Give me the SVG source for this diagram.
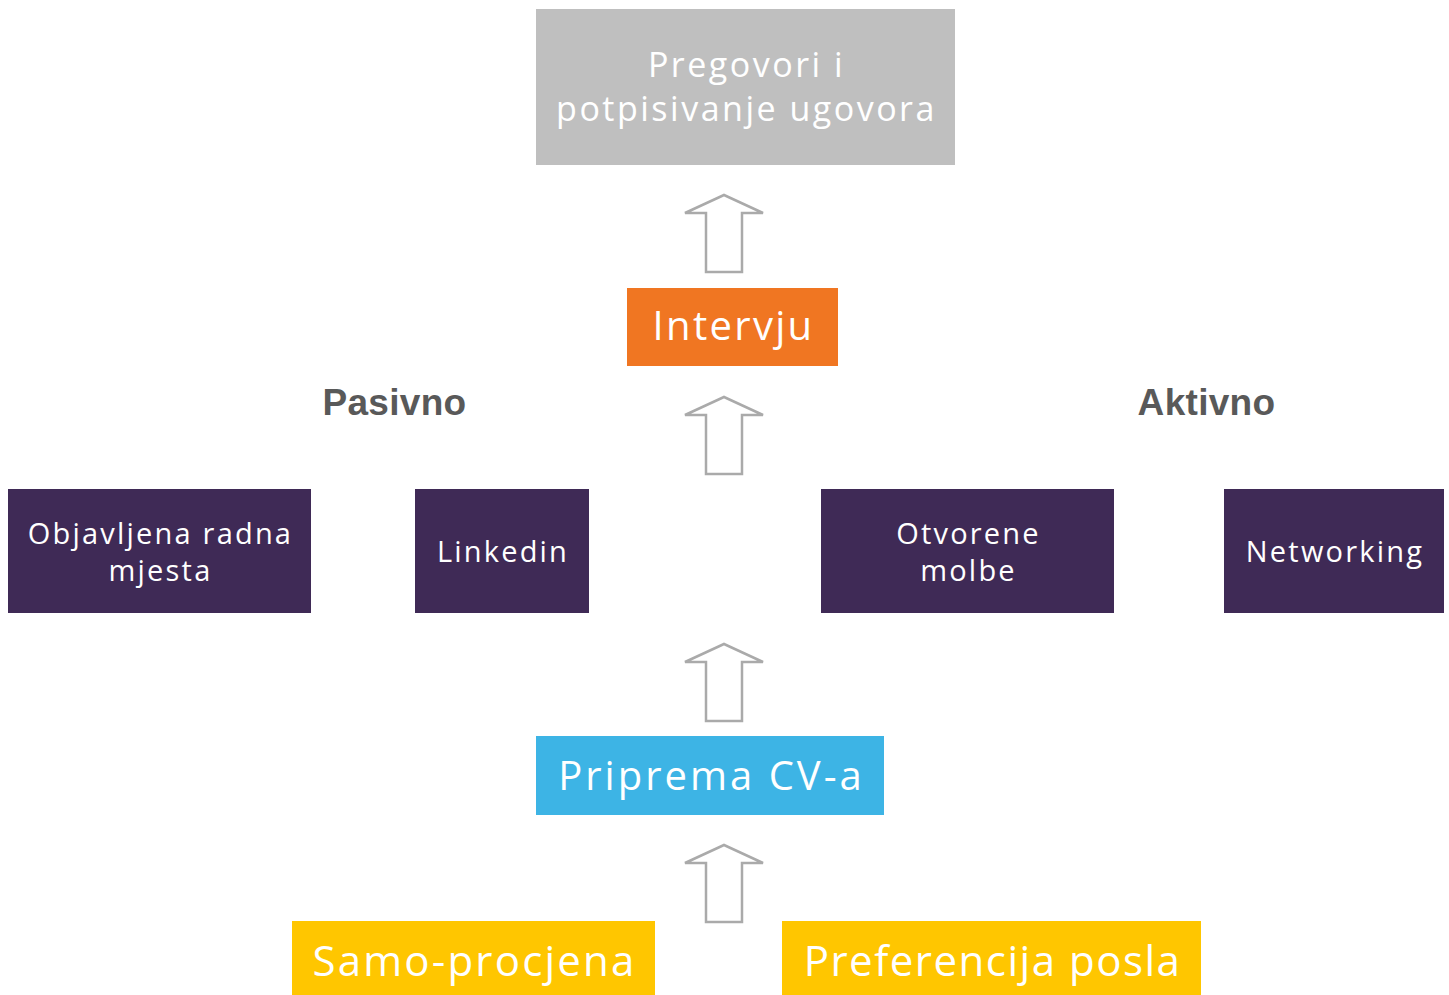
<svg xmlns="http://www.w3.org/2000/svg" width="1449" height="995" viewBox="0 0 1449 995">
<style>
.t{font-family:"Open Sans","Liberation Sans",sans-serif;fill:#fff;text-anchor:middle}
.p{fill:#3f2a56}
.h{font-family:"Liberation Sans",Arial,sans-serif;font-weight:bold;font-size:37px;fill:#595959;text-anchor:middle;letter-spacing:0.3px}
.a{fill:#fff;stroke:#aaaaaa;stroke-width:2.5}
</style>
<defs>
<path id="arr" class="a" d="M0,0 L39,18 L18,18 L18,77 L-18,77 L-18,18 L-39,18 Z"/>
</defs>
<rect width="1449" height="995" fill="#fff"/>
<g id="n-pregovori"><rect x="536" y="9" width="419" height="156" fill="#bfbfbf"/>
<text class="t" x="746.5" y="77" font-size="34" letter-spacing="2.5">Pregovori i</text>
<text class="t" x="746.5" y="121" font-size="34" letter-spacing="2.5">potpisivanje ugovora</text></g>
<g id="n-intervju"><rect x="627" y="288" width="211" height="78" fill="#f07622"/>
<text class="t" x="733.5" y="340" font-size="40" letter-spacing="2.3">Intervju</text></g>
<g id="n-pasivno"><text class="h" x="394.5" y="415">Pasivno</text></g>
<g id="n-aktivno"><text class="h" x="1206.5" y="415">Aktivno</text></g>
<g id="n-objavljena"><rect class="p" x="8" y="489" width="303" height="124"/>
<text class="t" x="160.5" y="544" font-size="29" letter-spacing="2.2">Objavljena radna</text>
<text class="t" x="160.5" y="581" font-size="29" letter-spacing="2.2">mjesta</text></g>
<g id="n-linkedin"><rect class="p" x="415" y="489" width="174" height="124"/>
<text class="t" x="503" y="562" font-size="29" letter-spacing="2.2">Linkedin</text></g>
<g id="n-otvorene"><rect class="p" x="821" y="489" width="293" height="124"/>
<text class="t" x="968.5" y="544" font-size="29" letter-spacing="2.2">Otvorene</text>
<text class="t" x="968.5" y="581" font-size="29" letter-spacing="2.2">molbe</text></g>
<g id="n-networking"><rect class="p" x="1224" y="489" width="220" height="124"/>
<text class="t" x="1335" y="562" font-size="29" letter-spacing="2.2">Networking</text></g>
<g id="n-priprema"><rect x="536" y="736" width="348" height="79" fill="#3db4e5"/>
<text class="t" x="711.5" y="790" font-size="40" letter-spacing="3">Priprema CV-a</text></g>
<g id="n-samo"><rect x="292" y="921" width="363" height="74" fill="#ffc600"/>
<text class="t" x="474.5" y="976" font-size="42" letter-spacing="2.2">Samo-procjena</text></g>
<g id="n-preferencija"><rect x="782" y="921" width="419" height="74" fill="#ffc600"/>
<text class="t" x="992.5" y="976" font-size="42" letter-spacing="1.5">Preferencija posla</text></g>
<g id="connectors">
<use href="#arr" x="724" y="195"/>
<use href="#arr" x="724" y="397"/>
<use href="#arr" x="724" y="644"/>
<use href="#arr" x="724" y="845"/>
</g>
</svg>
